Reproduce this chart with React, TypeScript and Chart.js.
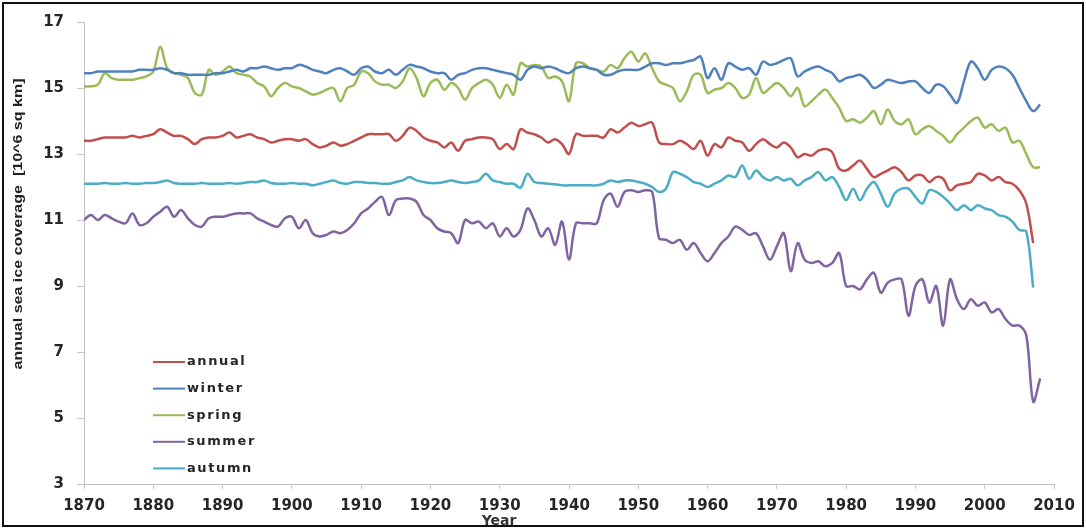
import { useEffect, useRef } from 'react';
import { Chart, registerables } from 'chart.js';

Chart.register(...registerables);

const firstYear = 1870;
const lastYear = 2008;
const years: number[] = Array.from({ length: lastYear - firstYear + 1 }, (_, i) => firstYear + i);

const annual = [
  13.4, 13.4, 13.45, 13.5, 13.5, 13.5, 13.5, 13.55, 13.5, 13.55,
  13.6, 13.75, 13.65, 13.55, 13.55, 13.45, 13.3, 13.45, 13.5, 13.5,
  13.55, 13.65, 13.5, 13.55, 13.6, 13.5, 13.45, 13.35, 13.4, 13.45,
  13.45, 13.4, 13.45, 13.3, 13.2, 13.25, 13.35, 13.25, 13.3, 13.4,
  13.5, 13.6, 13.6, 13.6, 13.6, 13.4, 13.55, 13.8, 13.7, 13.5,
  13.4, 13.35, 13.2, 13.35, 13.1, 13.4, 13.45, 13.5, 13.5, 13.45,
  13.15, 13.3, 13.15, 13.75, 13.65, 13.6, 13.5, 13.35, 13.45, 13.3,
  13.0, 13.6, 13.55, 13.55, 13.55, 13.5, 13.75, 13.65, 13.8, 13.95,
  13.85, 13.9, 13.95, 13.35, 13.3, 13.3, 13.4, 13.3, 13.15, 13.4,
  12.95, 13.3, 13.2, 13.5, 13.4, 13.35, 13.1, 13.3, 13.45, 13.3,
  13.2, 13.35, 13.2, 12.9, 13.0, 12.95, 13.1, 13.15, 13.05, 12.55,
  12.5, 12.65, 12.8, 12.55, 12.3, 12.4, 12.5, 12.6, 12.45, 12.2,
  12.35, 12.35, 12.15, 12.3, 12.25, 11.9, 12.05, 12.1, 12.15, 12.4,
  12.35, 12.2, 12.3, 12.15, 12.1, 11.9, 11.5, 10.3, null,
];

const winter = [
  15.45, 15.45, 15.5, 15.5, 15.5, 15.5, 15.5, 15.5, 15.55, 15.55,
  15.55, 15.6, 15.55, 15.45, 15.45, 15.4, 15.4, 15.4, 15.4, 15.45,
  15.45, 15.5, 15.55, 15.5, 15.6, 15.6, 15.65, 15.6, 15.55, 15.6,
  15.6, 15.7, 15.65, 15.55, 15.5, 15.45, 15.55, 15.6, 15.5, 15.4,
  15.6, 15.65, 15.5, 15.45, 15.55, 15.4, 15.55, 15.7, 15.65, 15.6,
  15.5, 15.45, 15.45, 15.25, 15.4, 15.45, 15.55, 15.6, 15.6, 15.55,
  15.5, 15.45, 15.4, 15.25, 15.55, 15.65, 15.6, 15.65, 15.6, 15.5,
  15.45, 15.6, 15.65, 15.6, 15.55, 15.4, 15.4, 15.5, 15.55, 15.55,
  15.55, 15.65, 15.75, 15.75, 15.7, 15.75, 15.75, 15.8, 15.85, 15.95,
  15.3, 15.6, 15.25, 15.75, 15.65, 15.55, 15.6, 15.4, 15.8, 15.7,
  15.75, 15.85, 15.9, 15.35, 15.5, 15.6, 15.65, 15.55, 15.45, 15.2,
  15.3, 15.35, 15.4, 15.25, 15.0, 15.1, 15.25, 15.2, 15.15, 15.2,
  15.2, 15.0, 14.85, 15.1, 15.05, 14.8, 14.55, 15.2, 15.8, 15.6,
  15.25, 15.55, 15.65, 15.6, 15.4, 15.0, 14.6, 14.3, 14.5,
];

const spring = [
  15.05, 15.05, 15.1, 15.45, 15.3, 15.25, 15.25, 15.25, 15.3, 15.35,
  15.5, 16.25, 15.6, 15.45, 15.4, 15.3, 14.85, 14.8, 15.55, 15.4,
  15.5, 15.65, 15.45, 15.4, 15.35, 15.15, 15.05, 14.75, 15.0, 15.15,
  15.05, 15.0, 14.9, 14.8, 14.85, 14.95, 15.0, 14.6, 15.0, 15.1,
  15.5, 15.45, 15.2, 15.1, 15.1, 15.0, 15.2, 15.6, 15.3, 14.75,
  15.15, 15.25, 14.95, 15.15, 15.0, 14.65, 15.0, 15.15, 15.25, 15.1,
  14.7, 15.1, 14.8, 15.75, 15.65, 15.7, 15.65, 15.3, 15.35, 15.2,
  14.6, 15.75, 15.75, 15.6, 15.55, 15.5, 15.7, 15.6, 15.9, 16.1,
  15.8, 16.05, 15.6, 15.2, 15.1, 15.0, 14.6, 14.9, 15.4, 15.4,
  14.85, 14.95, 15.0, 15.15, 15.0, 14.7, 14.8, 15.3, 14.85, 15.0,
  15.15, 15.0, 14.75, 15.0, 14.45, 14.6, 14.8, 14.95, 14.7, 14.4,
  14.0, 14.05, 13.95, 14.1, 14.3, 13.9, 14.35, 14.0, 13.9, 14.05,
  13.6, 13.75, 13.85, 13.7, 13.55, 13.35, 13.6, 13.8, 14.0, 14.1,
  13.8, 13.9, 13.7, 13.8, 13.35, 13.4, 13.0, 12.6, 12.6,
];

const summer = [
  11.0, 11.15, 11.0, 11.15, 11.05, 10.95, 10.9, 11.2, 10.85, 10.9,
  11.1, 11.25, 11.4, 11.1, 11.3, 11.05, 10.85, 10.8, 11.05, 11.1,
  11.1, 11.15, 11.2, 11.2, 11.2, 11.05, 10.95, 10.85, 10.8, 11.05,
  11.1, 10.75, 11.0, 10.6, 10.5, 10.55, 10.65, 10.6, 10.7, 10.9,
  11.2, 11.35, 11.55, 11.7, 11.15, 11.6, 11.65, 11.65, 11.55, 11.15,
  11.0, 10.75, 10.65, 10.6, 10.3, 11.0, 10.9, 10.95, 10.75, 10.9,
  10.5, 10.75, 10.5, 10.7, 11.35, 11.0, 10.5, 10.75, 10.25, 10.95,
  9.8, 10.9, 10.9, 10.9, 10.9, 11.6, 11.8, 11.4, 11.85, 11.9,
  11.85, 11.9, 11.85, 10.45, 10.4, 10.3, 10.4, 10.1, 10.3, 10.0,
  9.75, 10.0, 10.3, 10.5, 10.8, 10.7, 10.55, 10.6, 10.2, 9.8,
  10.2, 10.6, 9.45, 10.3, 9.8, 9.7, 9.75, 9.6, 9.7, 10.0,
  9.0, 9.0, 8.9, 9.2, 9.4, 8.8, 9.1, 9.2, 9.2, 8.1,
  9.0, 9.2, 8.5, 9.0, 7.8, 9.2, 8.6, 8.3, 8.6, 8.4,
  8.5, 8.2, 8.3, 8.0, 7.8, 7.8, 7.5, 5.5, 6.2,
];

const autumn = [
  12.1, 12.1, 12.1, 12.12, 12.1, 12.1, 12.12, 12.1, 12.1, 12.12,
  12.12, 12.15, 12.2, 12.12, 12.1, 12.1, 12.1, 12.12, 12.1, 12.1,
  12.1, 12.12, 12.1, 12.12, 12.15, 12.15, 12.2, 12.12, 12.1, 12.1,
  12.12, 12.1, 12.1, 12.05, 12.1, 12.15, 12.2, 12.12, 12.1, 12.15,
  12.15, 12.12, 12.12, 12.1, 12.1, 12.15, 12.2, 12.3, 12.2, 12.15,
  12.12, 12.12, 12.15, 12.2, 12.15, 12.12, 12.15, 12.2, 12.4, 12.2,
  12.15, 12.1, 12.1, 11.98, 12.4, 12.15, 12.12, 12.1, 12.08, 12.05,
  12.05, 12.05, 12.05, 12.05, 12.05, 12.1, 12.2, 12.15, 12.2, 12.2,
  12.15, 12.1, 12.0, 11.85, 11.95, 12.45, 12.4, 12.3, 12.15, 12.1,
  12.0, 12.1, 12.2, 12.35, 12.3, 12.65, 12.25, 12.5, 12.3, 12.2,
  12.3, 12.2, 12.25, 12.05, 12.2, 12.3, 12.45, 12.2, 12.3, 12.0,
  11.6, 11.95, 11.6, 11.95, 12.15, 11.8, 11.4, 11.8, 11.95, 11.95,
  11.7, 11.5, 11.9, 11.85, 11.7, 11.5, 11.3, 11.45, 11.3, 11.45,
  11.35, 11.3, 11.15, 11.1, 10.95, 10.7, 10.65, 8.95, null,
];

const seriesNames = ['annual', 'winter', 'spring', 'summer', 'autumn'];
const seriesColors = ['#C0504D', '#4F81BD', '#9BBB59', '#8064A2', '#4BACC6'];
const seriesValues = [annual, winter, spring, summer, autumn];

const xTicks = [1870, 1880, 1890, 1900, 1910, 1920, 1930, 1940, 1950, 1960, 1970, 1980, 1990, 2000, 2010];
const yTicks = [3, 5, 7, 9, 11, 13, 15, 17];

const yTitle = 'annual sea ice coverage  [10^6 sq km]';
const xTitle = 'Year';

const tickFont = { family: "'DejaVu Sans', sans-serif", size: 15, weight: 'bold' as const };

const overlayPlugin = {
  id: 'overlay',
  afterDraw(chart: any) {
    const ctx: CanvasRenderingContext2D = chart.ctx;
    // y title
    ctx.save();
    ctx.translate(18, 224);
    ctx.rotate(-Math.PI / 2);
    ctx.font = "bold 13px 'Liberation Sans Narrow', 'Liberation Sans', sans-serif";
    const w = ctx.measureText(yTitle).width;
    ctx.scale(291 / w, 1);
    ctx.textAlign = 'center';
    ctx.textBaseline = 'middle';
    ctx.fillStyle = '#222';
    ctx.fillText(yTitle, 0, 0);
    ctx.restore();

    // x title
    ctx.save();
    ctx.font = "bold 14px 'DejaVu Sans', sans-serif";
    ctx.textAlign = 'center';
    ctx.textBaseline = 'middle';
    ctx.fillStyle = '#333';
    ctx.fillText(xTitle, 499, 521);
    ctx.restore();

    // legend
    ctx.save();
    ctx.font = "bold 13px 'DejaVu Sans', sans-serif";
    (ctx as any).letterSpacing = '1.6px';
    ctx.textAlign = 'left';
    ctx.textBaseline = 'middle';
    chart.data.datasets.forEach((ds: any, i: number) => {
      const y = 362 + i * 26.6;
      ctx.strokeStyle = ds.borderColor;
      ctx.lineWidth = 2;
      ctx.beginPath();
      ctx.moveTo(153, y);
      ctx.lineTo(185, y);
      ctx.stroke();
      ctx.fillStyle = '#262626';
      ctx.fillText(ds.label, 187, y);
    });
    ctx.restore();
  },
};

export default function App() {
  const ref = useRef<HTMLCanvasElement>(null);
  useEffect(() => {
    if (!ref.current) return;
    const datasets = seriesNames.map((name, i) => ({
      label: name,
      data: years.map((yr, j) => ({ x: yr, y: seriesValues[i][j] })),
      borderColor: seriesColors[i],
      backgroundColor: seriesColors[i],
      borderWidth: 2.5,
      pointRadius: 0,
      tension: 0.35,
      fill: false,
    }));
    const chart = new Chart(ref.current, {
      type: 'line',
      data: { datasets },
      options: {
        responsive: false,
        animation: false,
        layout: { padding: { left: 0, right: 32, top: 17, bottom: 0 } },
        plugins: { legend: { display: false }, tooltip: { enabled: false }, title: { display: false } },
        scales: {
          x: {
            type: 'linear',
            min: 1870,
            max: 2010,
            afterBuildTicks: (s: any) => {
              s.ticks = xTicks.map((v) => ({ value: v }));
            },
            afterFit: (s: any) => {
              s.height = 45;
            },
            ticks: {
              callback: (v: any) => String(v),
              font: tickFont,
              color: '#262626',
              padding: 8,
              maxRotation: 0,
              autoSkip: false,
            },
            grid: { drawOnChartArea: false, drawTicks: true, tickLength: 5, color: '#c8c8c8' },
            border: { color: '#c0c0c0', width: 1 },
          },
          y: {
            type: 'linear',
            min: 3,
            max: 17,
            afterBuildTicks: (s: any) => {
              s.ticks = yTicks.map((v) => ({ value: v }));
            },
            afterFit: (s: any) => {
              s.width = 84;
            },
            ticks: {
              callback: (v: any) => String(v),
              font: tickFont,
              color: '#262626',
              padding: 13,
            },
            grid: { drawOnChartArea: false, drawTicks: true, tickLength: 7, color: '#c8c8c8' },
            border: { color: '#c0c0c0', width: 1 },
          },
        },
      },
      plugins: [overlayPlugin],
    });
    return () => chart.destroy();
  }, []);

  return (
    <div style={{ position: 'absolute', left: 0, top: 0, width: 1086, height: 529, background: '#fff' }}>
      <div
        style={{
          position: 'absolute',
          left: 2,
          top: 2,
          width: 1082,
          height: 525,
          border: '2px solid #111',
          boxSizing: 'border-box',
        }}
      />
      <canvas ref={ref} width={1086} height={529} style={{ position: 'absolute', left: 0, top: 0, width: 1086, height: 529 }} />
    </div>
  );
}
